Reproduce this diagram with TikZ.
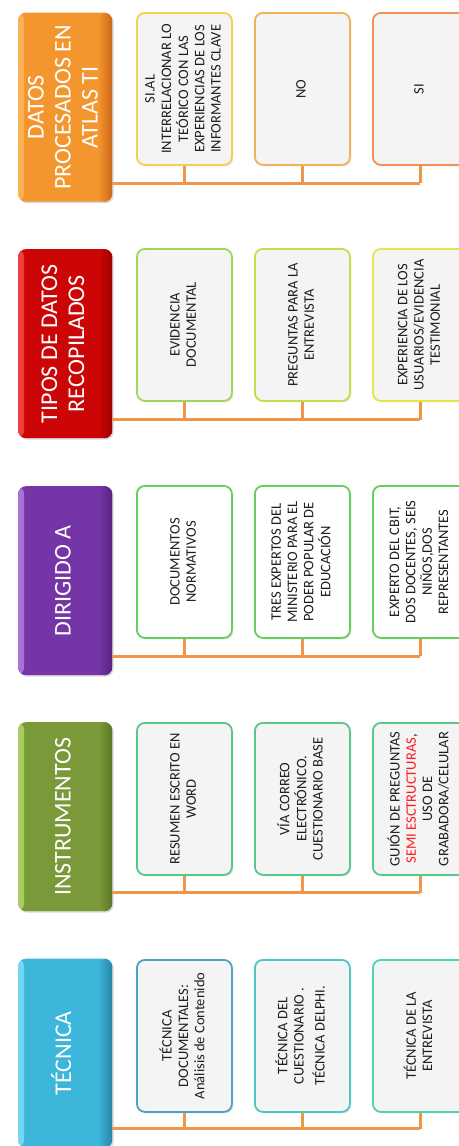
\documentclass[tikz,border=0pt]{standalone}
\usepackage{fontspec}
\setmainfont{Carlito}
\usetikzlibrary{shadows,calc}

\definecolor{childfill}{HTML}{F4F4F4}
\definecolor{childtext}{HTML}{1E1E1E}
\definecolor{connorange}{HTML}{F0964A}
\definecolor{semired}{HTML}{FF1A1A}
% header colours: light edge / body / dark edge
\definecolor{orangeL}{HTML}{FAB256}\definecolor{orangeM}{HTML}{F3962E}\definecolor{orangeD}{HTML}{CC6418}
\definecolor{redL}{HTML}{F04040}\definecolor{redM}{HTML}{CC0606}\definecolor{redD}{HTML}{A00000}
\definecolor{purpleL}{HTML}{A874DC}\definecolor{purpleM}{HTML}{7535A6}\definecolor{purpleD}{HTML}{5A2284}
\definecolor{oliveL}{HTML}{AACE62}\definecolor{oliveM}{HTML}{7A9A3A}\definecolor{oliveD}{HTML}{5C7828}
\definecolor{cyanL}{HTML}{74D8F2}\definecolor{cyanM}{HTML}{3CB6DA}\definecolor{cyanD}{HTML}{2886A6}
% child borders
\definecolor{bYellow}{HTML}{F2D24A}
\definecolor{bApricot}{HTML}{F5B15A}
\definecolor{bOrange}{HTML}{F29150}
\definecolor{bLeaf}{HTML}{9ED85A}
\definecolor{bLime}{HTML}{C3E04A}
\definecolor{bLemon}{HTML}{E5E54A}
\definecolor{bGreen}{HTML}{62D05A}
\definecolor{bMint}{HTML}{58C88A}
\definecolor{bSteel}{HTML}{50A2C2}
\definecolor{bTeal}{HTML}{4EC6C6}
\definecolor{bAqua}{HTML}{52D0B6}

% text set bottom-to-top, lines centred
\newcommand\uptext[1]{\rotatebox{90}{\begin{tabular}{@{}c@{}}#1\end{tabular}}}

\begin{document}
\begin{tikzpicture}[x=1pt,y=-1pt,
  headbox/.style n args={3}{rounded corners=8pt, minimum width=94pt, minimum height=189pt,
    inner sep=0pt, anchor=north west, text=white, font=\fontsize{24}{27}\selectfont,
    drop shadow={shadow xshift=1.5pt, shadow yshift=-1.5pt, opacity=0.3},
    fill=#2,
    path picture={
      \fill[left color=#1, right color=#2] (path picture bounding box.south west)
        rectangle ([xshift=6pt]path picture bounding box.north west);
      \fill[left color=#2, right color=#3] ([xshift=-14pt]path picture bounding box.south east)
        rectangle (path picture bounding box.north east);
    }},
  childbox/.style={draw=#1, line width=1.8pt, fill=childfill, rounded corners=8pt,
    minimum width=95pt, minimum height=152pt, inner sep=0pt, anchor=north west,
    text=childtext, font=\fontsize{14.5}{16.3}\selectfont,
    drop shadow={shadow xshift=1.5pt, shadow yshift=-1.5pt, opacity=0.18}},
  conn/.style={draw=connorange, line width=3pt},
]
\useasboundingbox (0,0) rectangle (458,1146);

% ---------- DATOS PROCESADOS EN ATLAS TI ----------
\node[headbox={orangeL}{orangeM}{orangeD}] (h1) at (18,12.5) {\uptext{DATOS\\PROCESADOS EN\\ATLAS TI}};
\node[childbox=bYellow] (a1) at (136,12) {\uptext{SI.AL\\INTERRELACIONAR LO\\TEÓRICO CON LAS\\EXPERIENCIAS DE LOS\\INFORMANTES CLAVE}};
\node[childbox=bApricot] (a2) at (254,12) {\uptext{NO}};
\node[childbox=bOrange] (a3) at (372,12) {\uptext{SI}};
\coordinate (l1) at (420,183);

% ---------- TIPOS DE DATOS RECOPILADOS ----------
\node[headbox={redL}{redM}{redD}] (h2) at (18,249) {\uptext{TIPOS DE DATOS\\RECOPILADOS}};
\node[childbox=bLeaf] (b1) at (136,248) {\uptext{EVIDENCIA\\DOCUMENTAL}};
\node[childbox=bLime] (b2) at (254,248) {\uptext{PREGUNTAS PARA LA\\ENTREVISTA}};
\node[childbox=bLemon] (b3) at (372,248) {\uptext{EXPERIENCIA DE LOS\\USUARIOS/EVIDENCIA\\TESTIMONIAL}};
\coordinate (l2) at (420,419.5);

% ---------- DIRIGIDO A ----------
\node[headbox={purpleL}{purpleM}{purpleD}] (h3) at (18,486) {\uptext{DIRIGIDO A}};
\node[childbox=bGreen, fill=white] (c1) at (136,485) {\uptext{DOCUMENTOS\\NORMATIVOS}};
\node[childbox=bGreen, fill=white] (c2) at (254,485) {\uptext{TRES EXPERTOS DEL\\MINISTERIO PARA EL\\PODER POPULAR DE\\EDUCACIÓN}};
\node[childbox=bGreen, fill=white] (c3) at (372,485) {\uptext{EXPERTO DEL CBIT,\\DOS DOCENTES, SEIS\\NIÑOS,DOS\\REPRESENTANTES}};
\coordinate (l3) at (420,656);

% ---------- INSTRUMENTOS ----------
\node[headbox={oliveL}{oliveM}{oliveD}] (h4) at (18,722) {\uptext{INSTRUMENTOS}};
\node[childbox=bMint] (d1) at (136,722) {\uptext{RESUMEN ESCRITO EN\\WORD}};
\node[childbox=bMint] (d2) at (254,722) {\uptext{VÍA CORREO\\ELECTRÓNICO.\\CUESTIONARIO BASE}};
\node[childbox=bMint] (d3) at (372,722) {\uptext{GUIÓN DE PREGUNTAS\\\textcolor{semired}{SEMI ESCTRUCTURAS},\\USO DE\\GRABADORA/CELULAR}};
\coordinate (l4) at (420,892.5);

% ---------- TÉCNICA ----------
\node[headbox={cyanL}{cyanM}{cyanD}] (h5) at (18,958.5) {\uptext{TÉCNICA}};
\node[childbox=bSteel] (e1) at (136,959) {\uptext{TÉCNICA\\DOCUMENTALES:\\Análisis de Contenido}};
\node[childbox=bTeal] (e2) at (254,959) {\uptext{TÉCNICA DEL\\CUESTIONARIO .\\[4pt]TÉCNICA DELPHI.}};
\node[childbox=bAqua] (e3) at (372,959) {\uptext{TÉCNICA DE LA\\ENTREVISTA}};
\coordinate (l5) at (420,1128.5);

% ---------- connectors ----------
\foreach \h/\p/\l in {h1/a/l1, h2/b/l2, h3/c/l3, h4/d/l4, h5/e/l5}{
  \draw[conn] (\h.east |- \l) -- (\l);
  \foreach \i in {1,2,3}{
    \draw[conn] (\p\i.south) -- (\p\i.south |- \l);
  }
}
\end{tikzpicture}
\end{document}
